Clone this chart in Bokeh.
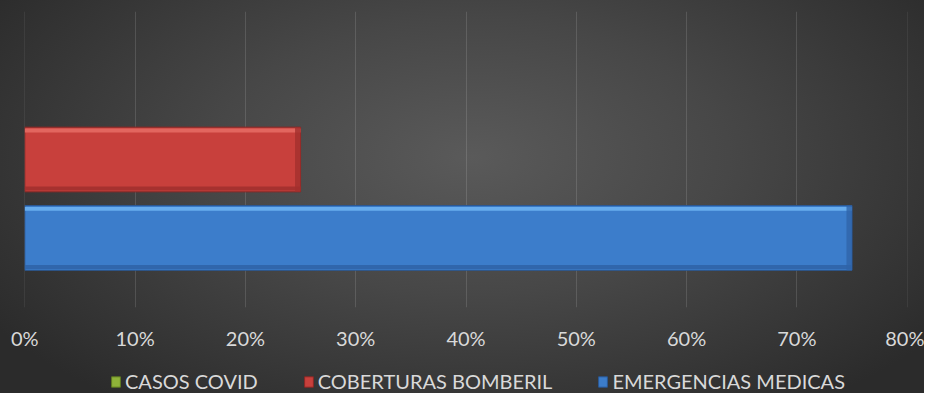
from bokeh.plotting import figure
from bokeh.layouts import column
from bokeh.models import Range1d, NumeralTickFormatter, FixedTicker, Legend, LegendItem, ColumnDataSource
from bokeh.transform import dodge
from bokeh.embed import file_html
from bokeh.resources import INLINE

# ---- data ----
categories = ["CASOS COVID", "COBERTURAS BOMBERIL", "EMERGENCIAS MEDICAS"]
values = [0.0, 0.25, 0.75]
tick_values = [0.0, 0.1, 0.2, 0.3, 0.4, 0.5, 0.6, 0.7, 0.8]

# ---- styles ----
fill_colors = ["#8fb339", "#c8403c", "#3c7dcb"]
edge_colors = ["#5f7a22", "#8a2826", "#2a5894"]
hi_colors = ["#b5d65f", "#e46a63", "#6db3f2"]
lo_colors = ["#6e8c2a", "#a2302d", "#2f64a9"]
FONT = "Lato"
TEXT = "#d9d9d9"

p = figure(width=924, height=352, output_backend="svg", toolbar_location=None,
           x_range=Range1d(-0.0003, 0.8003), y_range=Range1d(1 - 1.8875, 1 + 1.8875),
           min_border_left=24, min_border_right=17, min_border_top=11, min_border_bottom=42)
p.border_fill_color = None
p.background_fill_color = None
p.outline_line_color = None

# legend strip (a second, axis-less figure below the chart)
lg = figure(width=924, height=41, output_backend="svg", toolbar_location=None,
            x_axis_type=None, y_axis_type=None, min_border=0,
            x_range=Range1d(10, 11), y_range=Range1d(10, 11))
lg.border_fill_color = None
lg.background_fill_color = None
lg.outline_line_color = None
lg.grid.visible = False

n = len(categories)
items = []
for i, (cat, v) in enumerate(zip(categories, values)):
    y = n - 1 - i
    src = ColumnDataSource(dict(y=[y], v=[v]))
    p.hbar(y="y", right="v", left=0, height=0.825, source=src,
           fill_color=fill_colors[i],
           line_color=edge_colors[i] if v > 0 else None, line_width=1)
    if v > 0:
        # bevel highlight / shadow strips
        p.hbar(y=dodge("y", 0.37, range=p.y_range), right="v", left=0, height=0.05,
               source=src, fill_color=hi_colors[i], fill_alpha=0.9, line_color=None)
        p.hbar(y=dodge("y", -0.37, range=p.y_range), right="v", left=0, height=0.05,
               source=src, fill_color=lo_colors[i], fill_alpha=0.9, line_color=None)
        p.hbar(y="y", right="v", left=dodge("v", -0.005, range=p.x_range), height=0.825,
               source=src, fill_color=lo_colors[i], fill_alpha=0.8, line_color=None)
    # same series in the legend strip (outside its visible range; only the key shows)
    r = lg.hbar(y="y", right="v", left=0, height=0.825, source=src,
                fill_color=fill_colors[i], line_color=edge_colors[i], line_width=1)
    items.append(LegendItem(label=cat, renderers=[r]))

p.yaxis.visible = False
p.ygrid.visible = False
p.xgrid.grid_line_color = "white"
p.xgrid.grid_line_alpha = 0.13
p.xgrid.grid_line_width = 1

p.xaxis.ticker = FixedTicker(ticks=tick_values)
p.xaxis.formatter = NumeralTickFormatter(format="0%")
p.xaxis.axis_line_color = None
p.xaxis.major_tick_line_color = None
p.xaxis.minor_tick_line_color = None
p.xaxis.major_tick_out = 0
p.xaxis.major_label_standoff = 18
p.xaxis.major_label_text_font = FONT
p.xaxis.major_label_text_font_size = "20px"
p.xaxis.major_label_text_color = TEXT

legend = Legend(items=items, orientation="horizontal", location=(86, 0),
                label_text_font=FONT, label_text_font_size="20px", label_text_color=TEXT,
                glyph_width=11, glyph_height=13, label_standoff=4, spacing=45,
                background_fill_alpha=0, border_line_alpha=0, padding=0, margin=0)
lg.add_layout(legend)

layout = column(p, lg, spacing=0)
layout.styles = {"background-image": "radial-gradient(ellipse 62% 78% at 51% 40%, #5a5a5a 0%, #474747 45%, #2b2b2b 100%)"}

open("out.html", "w").write(file_html(layout, INLINE))
